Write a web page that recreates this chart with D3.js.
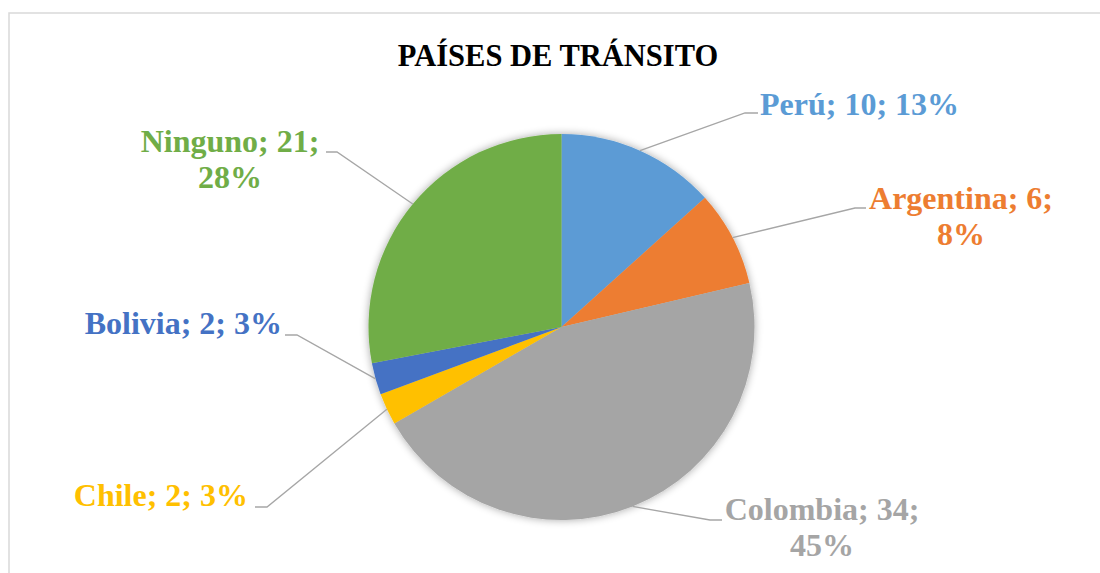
<!DOCTYPE html>
<html>
<head>
<meta charset="utf-8">
<script src="https://cdn.jsdelivr.net/npm/d3@7"></script>
<style>
  html, body { margin: 0; padding: 0; background: #fff; }
  svg { display: block; }
</style>
</head>
<body>
<svg id="chart" width="1100" height="573"></svg>
<script>
const title = "PAÍSES DE TRÁNSITO";
const categories = ["Perú", "Argentina", "Colombia", "Chile", "Bolivia", "Ninguno"];
const values = [10, 6, 34, 2, 2, 21];
const percents = ["13%", "8%", "45%", "3%", "3%", "28%"];
const colors = ["#5B9BD5", "#ED7D31", "#A5A5A5", "#FFC000", "#4472C4", "#70AD47"];
// label lines (text split as in the original)
const labelLines = [
  ["Perú; 10; 13%"],
  ["Argentina; 6;", "8%"],
  ["Colombia; 34;", "45%"],
  ["Chile; 2; 3%"],
  ["Bolivia; 2; 3%"],
  ["Ninguno; 21;", "28%"]
];

const svg = d3.select("#chart");
const cx = 561.5, cy = 327, R = 193;
const FONT = "Liberation Serif, Times New Roman, serif";

// frame
svg.append("rect")
  .attr("x", 9).attr("y", 13).attr("width", 1200).attr("height", 700)
  .attr("fill", "none").attr("stroke", "#d9d9d9").attr("stroke-width", 1.5);

// title
svg.append("text")
  .attr("x", 558).attr("y", 66)
  .attr("text-anchor", "middle")
  .attr("font-family", FONT)
  .attr("font-weight", "bold").attr("font-size", 30.5)
  .attr("fill", "#000").text(title);

// shadow filter
const defs = svg.append("defs");
const f = defs.append("filter").attr("id", "sh").attr("x", "-20%").attr("y", "-20%").attr("width", "140%").attr("height", "140%");
f.append("feGaussianBlur").attr("in", "SourceAlpha").attr("stdDeviation", 4).attr("result", "b");
f.append("feComponentTransfer").attr("in", "b").attr("result", "o2")
  .append("feFuncA").attr("type", "linear").attr("slope", 0.35);
const m = f.append("feMerge");
m.append("feMergeNode").attr("in", "o2");
m.append("feMergeNode").attr("in", "SourceGraphic");

const pie = d3.pie().sort(null).value(d => d)(values);
const arc = d3.arc().innerRadius(0).outerRadius(R);

const g = svg.append("g").attr("transform", `translate(${cx},${cy})`);
g.append("g").attr("filter", "url(#sh)")
  .selectAll("path").data(pie).join("path")
  .attr("d", arc)
  .attr("fill", (d, i) => colors[i]);

// label placement (leader line elbow/end, text position)
const labelPos = [
  { elbow: [745, 113], end: [758, 113], tx: 760, ty: 115, anchor: "start" },
  { elbow: [855, 208], end: [866, 208], tx: 961, ty: 209, anchor: "middle" },
  { elbow: [710, 520], end: [722, 520], tx: 822, ty: 520, anchor: "middle" },
  { elbow: [267, 507], end: [255, 507], tx: 248, ty: 506, anchor: "end" },
  { elbow: [297, 335], end: [285, 335], tx: 282, ty: 334, anchor: "end" },
  { elbow: [337, 152], end: [326, 152], tx: 230, ty: 152, anchor: "middle" }
];
const lineH = 36;

pie.forEach((d, i) => {
  const a = (d.startAngle + d.endAngle) / 2;
  const px = cx + R * Math.sin(a), py = cy - R * Math.cos(a);
  const lp = labelPos[i];
  svg.append("polyline")
    .attr("points", [[px, py], lp.elbow, lp.end].map(p => p.join(",")).join(" "))
    .attr("fill", "none").attr("stroke", "#a6a6a6").attr("stroke-width", 1.3);
  const t = svg.append("text")
    .attr("font-family", FONT)
    .attr("font-weight", "bold").attr("font-size", 32)
    .attr("fill", colors[i])
    .attr("text-anchor", lp.anchor);
  labelLines[i].forEach((s, k) => {
    t.append("tspan").attr("x", lp.tx).attr("y", lp.ty + k * lineH).text(s);
  });
});
</script>
</body>
</html>
